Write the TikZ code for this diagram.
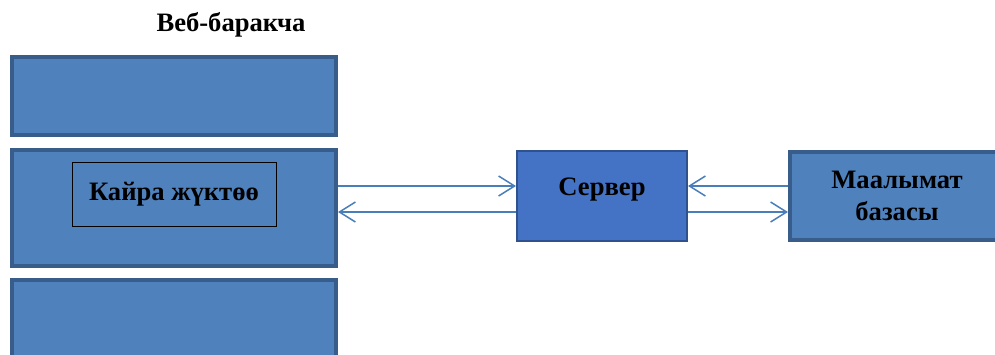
\documentclass[tikz,border=0pt]{standalone}
\usepackage{fontspec}
\setmainfont{Liberation Serif}
\usetikzlibrary{arrows.meta,positioning}
\definecolor{boxfill}{HTML}{4F81BD}
\definecolor{boxline}{HTML}{385D8A}
\definecolor{srvfill}{HTML}{4472C4}
\definecolor{srvline}{HTML}{2F528F}
\definecolor{linkline}{HTML}{4A7EBB}

\begin{document}
\begin{tikzpicture}[x=1pt,y=-1pt,>={Straight Barb[length=16pt,width=20pt]},
    font=\fontsize{26.6}{32}\selectfont\bfseries,
    panel/.style={draw=boxline,fill=boxfill,line width=4pt,inner sep=0pt},
    link/.style={linkline,line width=1.5pt}]
      \useasboundingbox (0,0) rectangle (995,354);

      \node (title) at (231,25) {Веб-баракча};
      \node[panel,minimum width=324pt,minimum height=116pt] (webmid) at (174,208) {};
      \node[panel,minimum width=324pt,minimum height=78pt] (webtop) [above=11pt of webmid] {};
      \node[panel,minimum width=324pt,minimum height=100pt] (webbot) [below=10pt of webmid] {};
      \node[draw=black,fill=boxfill,line width=1pt,minimum width=204pt,minimum height=64pt,inner sep=0pt]
        (reload) at (174,194) {Кайра жүктөө};

      \node[draw=srvline,fill=srvfill,line width=2pt,minimum width=170pt,minimum height=90pt,
        inner sep=0pt,text height=19pt,text depth=21pt] (server) at (602,196) {Сервер};
      \node[panel,minimum width=214pt,minimum height=88pt,align=center] (db) at (897,196)
        {Маалымат\\базасы};

      \path[->,link]
      ([yshift=22pt]webmid.east) edge ([yshift=10pt]server.west)
      ([yshift=-16pt]server.west) edge ([yshift=-4pt]webmid.east)

      ([yshift=10pt]db.west) edge ([yshift=10pt]server.east)
      ([yshift=-16pt]server.east) edge ([yshift=-16pt]db.west)
      ;
    \end{tikzpicture}
\end{document}
